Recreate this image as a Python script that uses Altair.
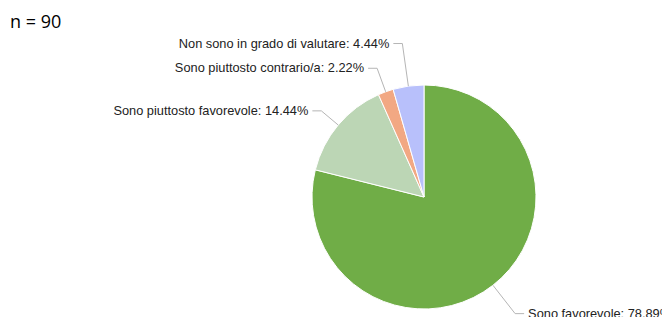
import altair as alt
import pandas as pd

# ---- data ----
categories = [
    "Sono favorevole",
    "Sono piuttosto favorevole",
    "Sono piuttosto contrario/a",
    "Non sono in grado di valutare",
]
percents = [78.89, 14.44, 2.22, 4.44]
colors = ["#70ad47", "#bcd6b5", "#f2a883", "#b8c0fb"]
n_label = "n = 90"

# ---- layout ----
W, H = 654, 309
CX, CY, R = 416, 189, 112
elbow_r = [148, 134, 137, 155]   # leader-line elbow radius per slice (label anti-collision)
HOOK, GAP = 9, 4
LABEL_FONT = "Liberation Sans"

df = pd.DataFrame({"cat": categories, "pct": percents,
                   "idx": list(range(len(categories))), "er": elbow_r})

xs = alt.Scale(domain=[0, W], range=[0, W])
ys = alt.Scale(domain=[0, H], range=[0, H])

pie = alt.Chart(df).mark_arc(
    outerRadius=R, x=CX, y=CY, stroke="white", strokeWidth=1
).encode(
    theta=alt.Theta("pct:Q", stack=True),
    color=alt.Color("cat:N", scale=alt.Scale(domain=categories, range=colors), legend=None),
    order=alt.Order("idx:Q"),
)

geo = alt.Chart(df).transform_window(
    cum="sum(pct)", sort=[alt.SortField("idx")], frame=[None, 0]
).transform_calculate(
    mid="(datum.cum - datum.pct / 2) / 100 * 2 * PI",
    side="sin(datum.mid) >= 0 ? 1 : -1",
    x0=f"{CX} + {R} * sin(datum.mid)",
    y0=f"{CY} - {R} * cos(datum.mid)",
    xe=f"{CX} + datum.er * sin(datum.mid)",
    ye=f"{CY} - datum.er * cos(datum.mid)",
    xh=f"datum.xe + datum.side * {HOOK}",
    lx=f"datum.xh + datum.side * {GAP}",
    label="datum.cat + ': ' + format(datum.pct, '.2f') + '%'",
)

lead1 = geo.mark_rule(color="#b5b5b5", strokeWidth=1).encode(
    x=alt.X("x0:Q", scale=xs, axis=None),
    y=alt.Y("y0:Q", scale=ys, axis=None),
    x2="xe:Q",
    y2="ye:Q",
)
lead2 = geo.mark_rule(color="#b5b5b5", strokeWidth=1).encode(
    x=alt.X("xe:Q", scale=xs, axis=None),
    y=alt.Y("ye:Q", scale=ys, axis=None),
    x2="xh:Q",
)

txt_r = geo.transform_filter("datum.side > 0").mark_text(
    align="left", baseline="middle", font=LABEL_FONT, fontSize=12.8, color="#222222"
).encode(
    x=alt.X("lx:Q", scale=xs, axis=None),
    y=alt.Y("ye:Q", scale=ys, axis=None),
    text="label:N",
)
txt_l = geo.transform_filter("datum.side < 0").mark_text(
    align="right", baseline="middle", font=LABEL_FONT, fontSize=12.8, color="#222222"
).encode(
    x=alt.X("lx:Q", scale=xs, axis=None),
    y=alt.Y("ye:Q", scale=ys, axis=None),
    text="label:N",
)

ntext = alt.Chart(pd.DataFrame({"t": [n_label]})).mark_text(
    align="left", baseline="alphabetic", font="Open Sans", fontSize=18, color="#000000"
).encode(text="t:N", x=alt.value(2), y=alt.value(20))

chart = alt.layer(pie, lead1, lead2, txt_r, txt_l, ntext).properties(
    width=W, height=H, padding=0, autosize=alt.AutoSizeParams(type="none")
).configure_view(stroke=None)

chart.save("out.html", embed_options={"renderer": "svg", "actions": False})
